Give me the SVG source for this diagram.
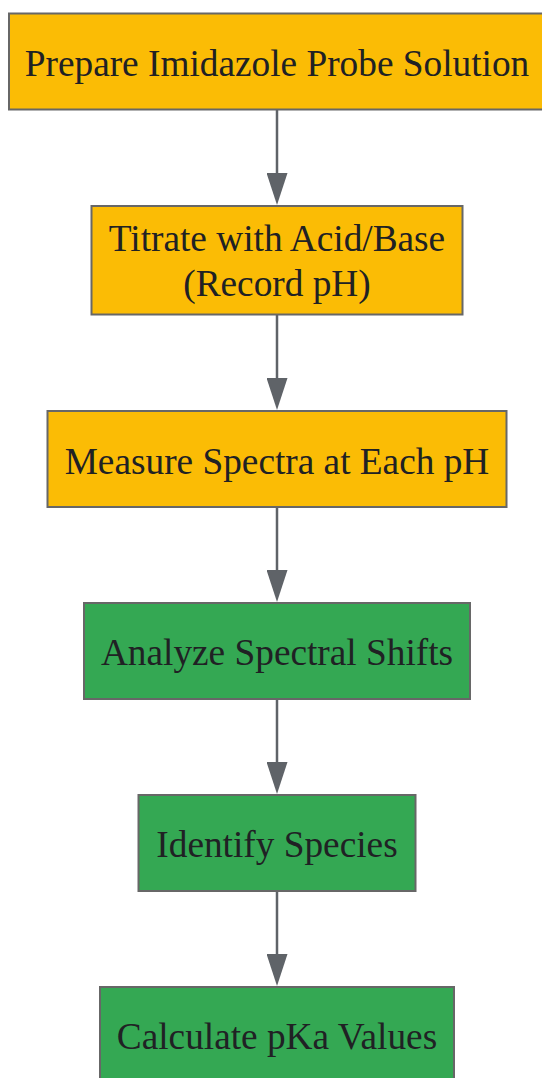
<svg xmlns="http://www.w3.org/2000/svg" width="542" height="1078" viewBox="0 0 542 1078">
  <style>
    .box rect { stroke: #676767; stroke-width: 2; }
    .yellow rect { fill: #FBBC05; }
    .green rect { fill: #34A853; }
    .box text { font-family: "Liberation Serif", "Times New Roman", serif; font-size: 37.3px; fill: #202124; text-anchor: middle; }
    .edge { stroke: #5f6368; stroke-width: 2.5; fill: none; marker-end: url(#arrow); }
  </style>
  <defs>
    <marker id="arrow" markerUnits="userSpaceOnUse" viewBox="0 0 32 21" markerWidth="32" markerHeight="21" refX="2" refY="10.5" orient="auto">
      <path d="M0,0 L32,10.5 L0,21 z" fill="#5f6368"/>
    </marker>
  </defs>
  <rect width="542" height="1078" fill="#ffffff"/>
  <g id="connectors">
    <path class="edge" d="M277,110 V175"/>
    <path class="edge" d="M277,315 V380"/>
    <path class="edge" d="M277,508 V572"/>
    <path class="edge" d="M277,700 V764"/>
    <path class="edge" d="M277,892 V956"/>
  </g>
  <g id="prepare" class="box yellow">
    <rect x="9" y="13.5" width="536" height="96"/>
    <text x="277" y="75.5">Prepare Imidazole Probe Solution</text>
  </g>
  <g id="titrate" class="box yellow">
    <rect x="91.5" y="206" width="371" height="108.5"/>
    <text x="277" y="251">Titrate with Acid/Base</text>
    <text x="277" y="296">(Record pH)</text>
  </g>
  <g id="measure" class="box yellow">
    <rect x="47.5" y="411" width="459" height="96"/>
    <text x="277" y="473.5">Measure Spectra at Each pH</text>
  </g>
  <g id="analyze" class="box green">
    <rect x="84" y="603" width="386" height="96"/>
    <text x="277" y="665">Analyze Spectral Shifts</text>
  </g>
  <g id="identify" class="box green">
    <rect x="138.5" y="795" width="277" height="96"/>
    <text x="277" y="857">Identify Species</text>
  </g>
  <g id="calculate" class="box green">
    <rect x="100" y="987" width="354" height="96"/>
    <text x="277" y="1049">Calculate pKa Values</text>
  </g>
</svg>
